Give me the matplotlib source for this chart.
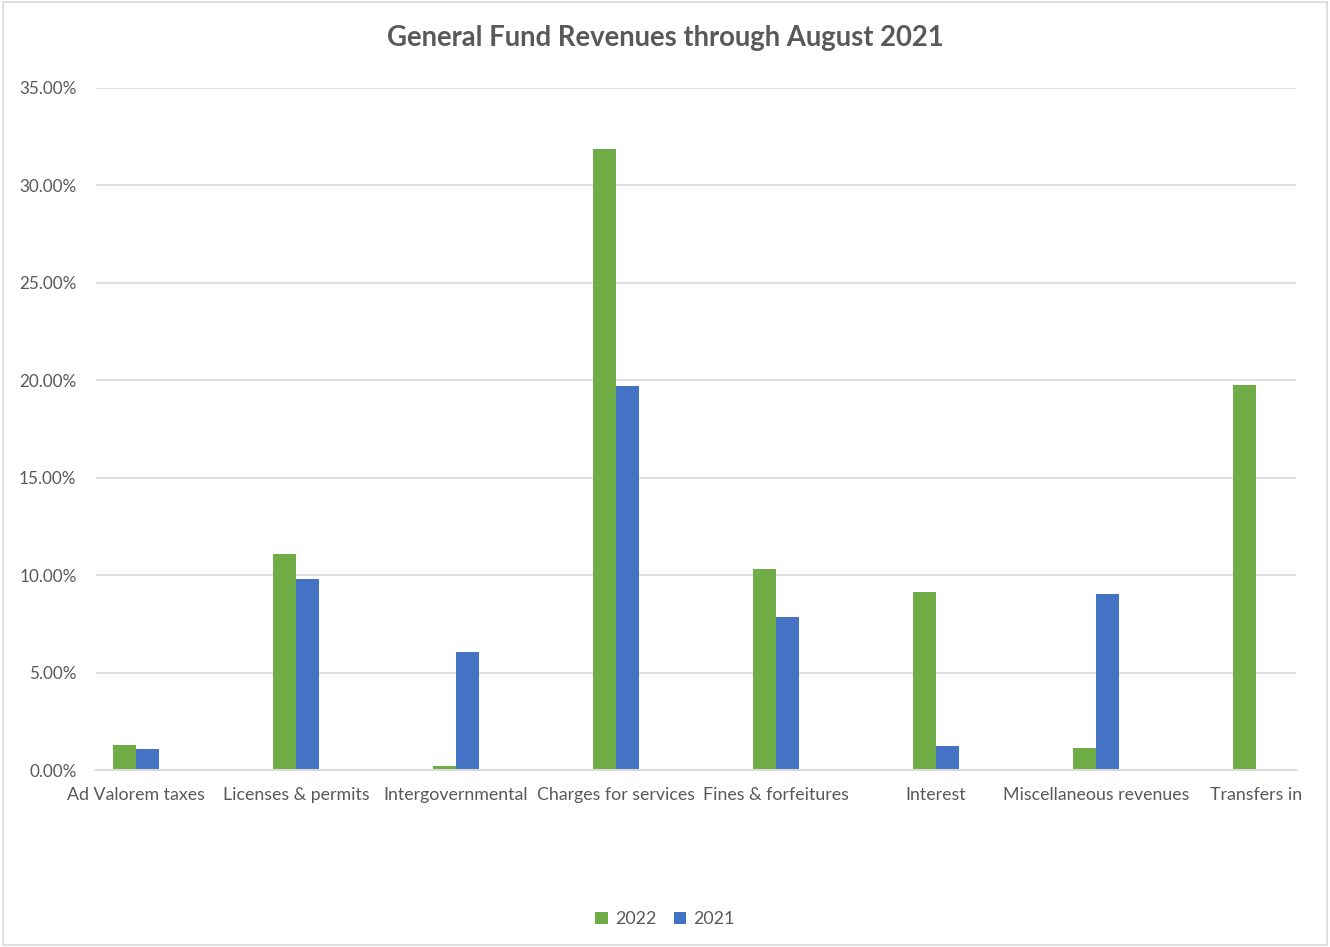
import numpy as np
import matplotlib
matplotlib.use("Agg")
import matplotlib.pyplot as plt
from matplotlib.patches import Rectangle
from matplotlib.ticker import FuncFormatter, MultipleLocator

categories = ["Ad Valorem taxes", "Licenses & permits", "Intergovernmental",
              "Charges for services", "Fines & forfeitures", "Interest",
              "Miscellaneous revenues", "Transfers in"]
rev_2022 = [1.28, 11.08, 0.22, 31.87, 10.32, 9.13, 1.13, 19.76]
rev_2021 = [1.10, 9.80, 6.06, 19.71, 7.85, 1.23, 9.03, 0.0]

plt.rcParams['font.family'] = ['Lato', 'DejaVu Sans']
text_col = '#595959'
grid_col = '#D9D9D9'

fig = plt.figure(figsize=(13.3, 9.47), dpi=100)
ax = fig.add_axes([0.0722, 0.1869, 0.9022, 0.7202])

x = np.arange(len(categories))
w = 0.144
ax.bar(x - w / 2, rev_2022, w, color='#70AD47', label='2022', zorder=3)
ax.bar(x + w / 2, rev_2021, w, color='#4472C4', label='2021', zorder=3)

ax.set_xlim(-0.25, len(categories) - 0.75)
ax.set_ylim(0, 35)
ax.yaxis.set_major_locator(MultipleLocator(5))
ax.yaxis.set_major_formatter(FuncFormatter(lambda v, p: f"{v:.2f}%"))
ax.set_xticks(x)
ax.set_xticklabels(categories)

ax.grid(axis='y', color=grid_col, linewidth=1.2, zorder=0)
for s in ['top', 'right', 'left']:
    ax.spines[s].set_visible(False)
ax.spines['bottom'].set_color(grid_col)
ax.spines['bottom'].set_linewidth(1.5)
ax.spines['bottom'].set_zorder(4)
ax.tick_params(axis='y', length=0, labelsize=12.3, colors=text_col, pad=14)
ax.tick_params(axis='x', length=0, labelsize=12.8, colors=text_col, pad=12)

fig.text(0.5, 0.9595, "General Fund Revenues through August 2021", ha='center', va='center',
         fontsize=19.8, fontweight='bold', color=text_col)

fig.legend(loc='center', bbox_to_anchor=(0.5, 0.0296), ncol=2, frameon=False,
           fontsize=12.8, labelcolor=text_col, handlelength=0.7, handleheight=0.7,
           handletextpad=0.4, columnspacing=1.0)

fig.patches.append(Rectangle((0.002, 0.002), 0.996, 0.996, transform=fig.transFigure,
                             fill=False, edgecolor=grid_col, linewidth=1.2))

fig.savefig("out.png", dpi=100)
